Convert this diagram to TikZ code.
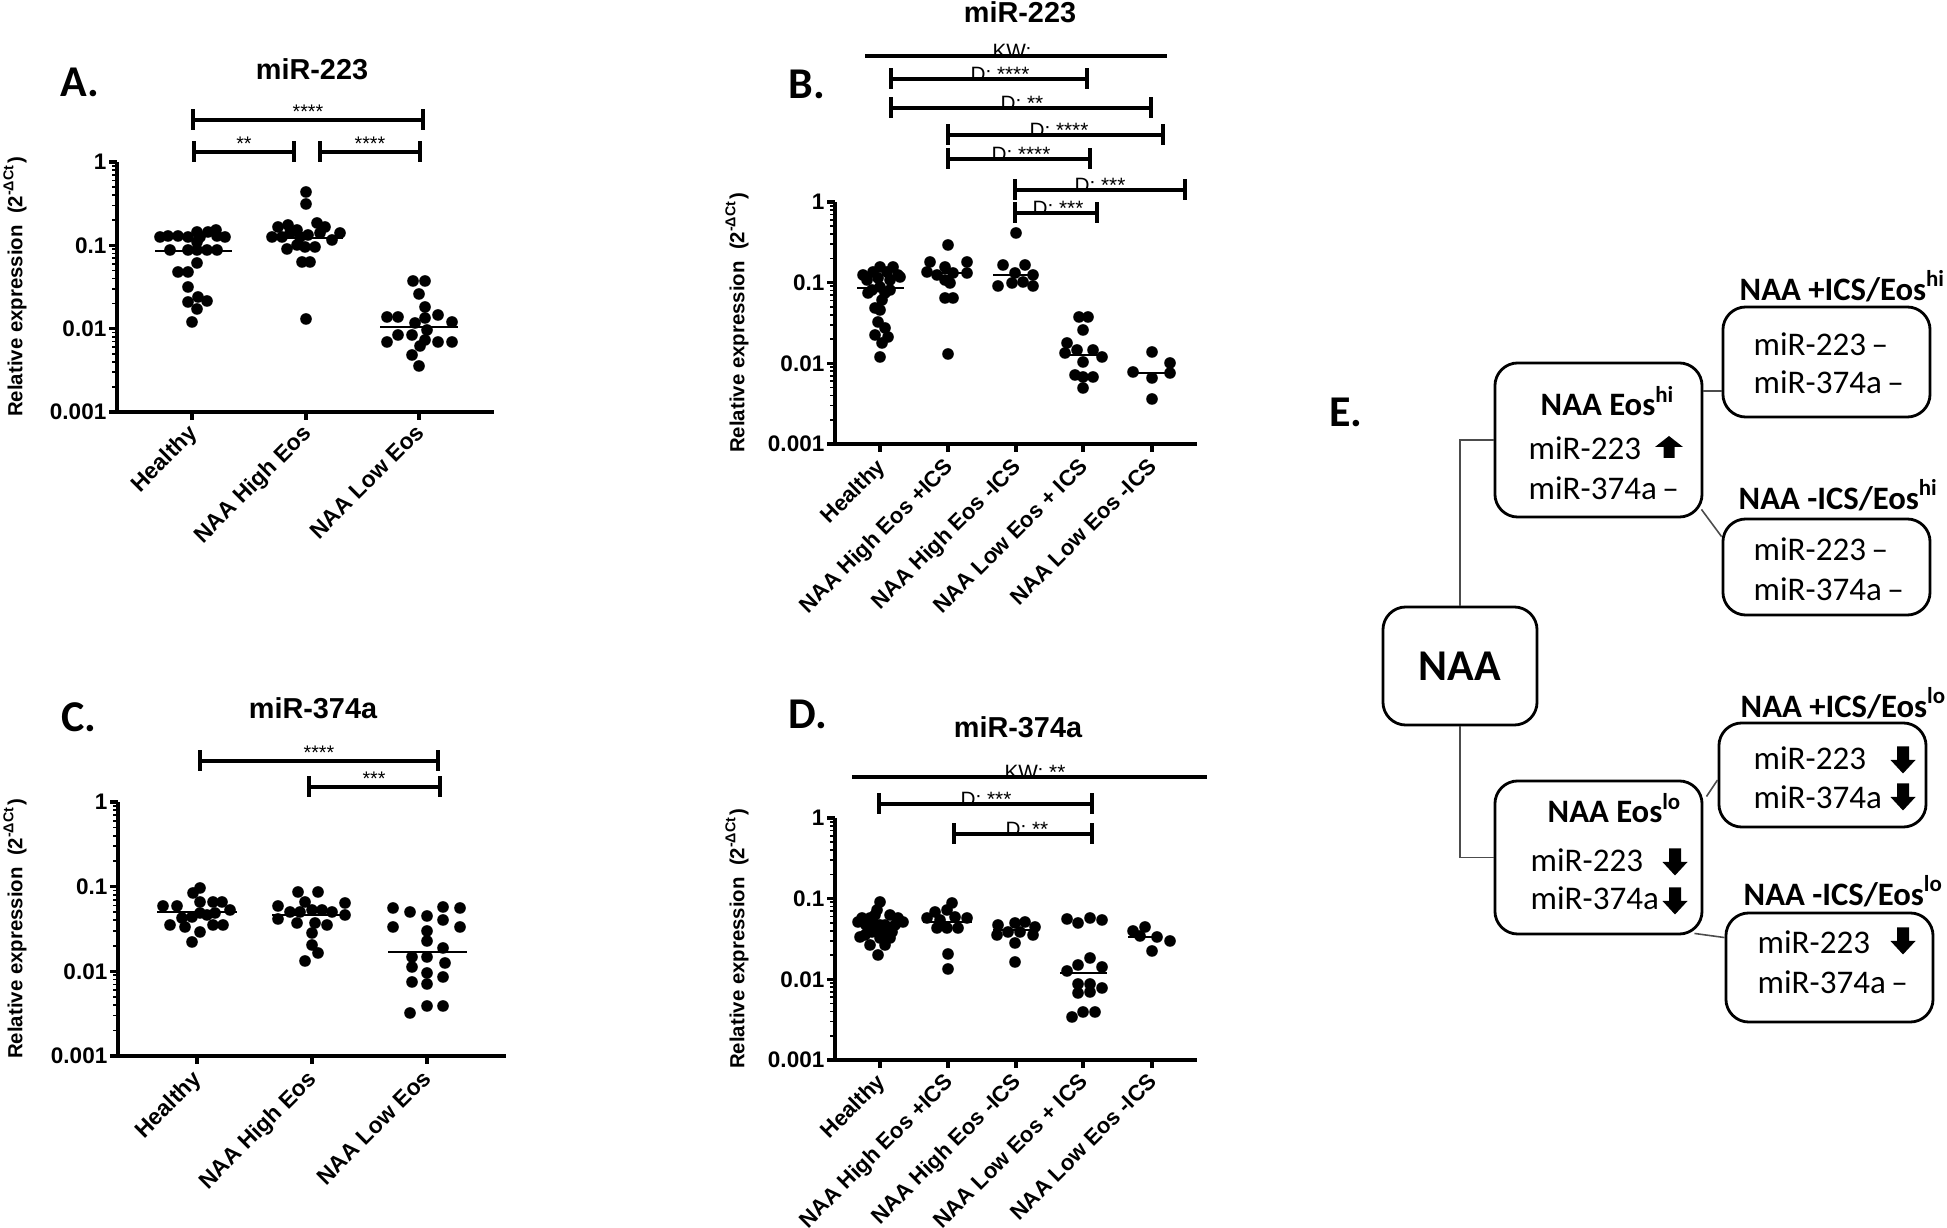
\documentclass[tikz,border=0pt]{standalone}
\usepackage{fontspec}
\setmainfont{Liberation Sans}
\newfontfamily\calfont{Carlito}
\usetikzlibrary{calc, positioning}

\tikzset{
  axisline/.style={line width=0.9pt},
  minortick/.style={line width=0.5pt},
  medline/.style={line width=0.8pt},
  sigline/.style={line width=0.9pt},
  ticklab/.style={anchor=east, inner sep=0pt, font=\bfseries\fontsize{6.4}{7}\selectfont},
  xlab/.style={anchor=north east, rotate=45, inner sep=0pt, font=\bfseries\fontsize{6.5}{8}\selectfont},
  xlabsm/.style={xlab, font=\bfseries\fontsize{6.3}{7.5}\selectfont},
  ylab/.style={rotate=90, inner sep=0pt, font=\bfseries\fontsize{5.8}{7}\selectfont},
  plottitle/.style={font=\bfseries\fontsize{8.2}{10}\selectfont},
  panel/.style={font=\calfont\bfseries\fontsize{12.5}{14}\selectfont},
  stars/.style={anchor=base, inner sep=0pt, yshift=0.015cm, font=\fontsize{5.6}{6}\selectfont},
  dtest/.style={anchor=base, inner sep=0pt, yshift=-0.03cm, font=\fontsize{5.9}{6.5}\selectfont},
  ebox/.style={draw, line width=0.8pt, rounded corners=6.5pt, inner sep=0pt},
  etxt/.style={anchor=west, inner sep=0pt, font=\calfont\fontsize{9.4}{11}\selectfont},
  ehead/.style={anchor=west, inner sep=0pt, font=\calfont\bfseries\fontsize{9.3}{11}\selectfont},
  conn/.style={line width=0.45pt, black!70},
  uparrow/.pic={\fill (-5.5,11) -- (5.5,11) -- (5.5,0) -- (14,0) -- (0,-11) -- (-14,0) -- (-5.5,0) -- cycle;},
  downarrow/.pic={\fill (-6,-13.5) -- (6,-13.5) -- (6,0) -- (12.5,0) -- (0,13.5) -- (-12.5,0) -- (-6,0) -- cycle;}
}

% log axis: name, x, y of 1, decade, x end
\newcommand\logaxis[5]{%
  \draw[axisline] (#2,#3) -- (#2,{#3+3*#4}) -- (#5,{#3+3*#4});
  \foreach \d/\lab in {0/1,1/0.1,2/0.01,3/0.001}{
    \draw[axisline] (#2,{#3+\d*#4}) -- ({#2-8},{#3+\d*#4});
    \node[ticklab] (#1y\d) at ({#2-10},{#3+\d*#4}) {\lab};
  }
  \foreach \d in {1,2,3}{\foreach \m in {2,...,9}{
    \draw[minortick] (#2,{#3+(\d-log10(\m))*#4}) -- ({#2-5},{#3+(\d-log10(\m))*#4});
  }}
}
\newcommand\scatter[1]{\foreach \p in {#1}{\fill \p circle[radius=1.65pt];}}
% bar: style, name, x1, x2, y, label x, label
\newcommand\sigbar[7][stars]{%
  \draw[sigline] (#3,{#5-10.5}) -- (#3,{#5+10.5}) (#3,#5) -- (#4,#5) (#4,{#5-10.5}) -- (#4,{#5+10.5});
  \node[#1] (#2) at (#6,#5) {#7};
}

\begin{document}
\begin{tikzpicture}[x=0.01cm, y=-0.01cm]
\fill[white] (0,0) rectangle (1947,1228);
\useasboundingbox (0,0) rectangle (1947,1228);

% ---- A
\node[panel] (lblA) at (80,82) {A.};
\node[plottitle] (titA) at (312,69) {miR-223};
\logaxis{A}{117}{162}{83.33}{494}
\foreach \x/\lab [count=\i] in {192/Healthy,306/NAA High Eos,419/NAA Low Eos}{
  \draw[axisline] (\x,412) -- (\x,420);
  \node[xlab] (Ax\i) at ({\x-5},422) {\lab};
}
\node[ylab] (Aylab) at (15,287) {Relative expression\ \ (2\textsuperscript{-ΔCt})};
\scatter{(160,237),(168,236),(178,236),(188,237),(197,232),(200,237),(208,232),(216,230),(217,236),(225,237),(170,250),(188,250),(197,250),(207,250),(217,250),(197,242),(197,263),(178,272),(188,272),(188,287),(198,297),(188,302),(207,301),(197,309),(192,322)}
\scatter{(306,192),(306,204),(278,227),(288,225),(297,230),(317,223),(325,227),(272,237),(282,237),(290,233),(300,237),(308,235),(320,233),(332,240),(340,233),(287,249),(297,245),(305,247),(315,247),(302,262),(310,262),(306,319)}
\scatter{(413,281),(425,281),(419,294),(425,307),(387,317),(398,317),(415,323),(425,318),(438,315),(452,322),(387,342),(398,335),(412,335),(425,340),(438,342),(452,342),(412,355),(419,366),(427,330),(420,346)}
\draw[medline] (155,251) -- (232,251) (267,238) -- (343,238) (380,327) -- (458,327);
\sigbar{As1}{193}{423}{120}{308}{****}
\sigbar{As2}{194}{294}{152}{244}{**}
\sigbar{As3}{320}{420}{152}{370}{****}

% ---- B
\node[panel] (lblB) at (807,84) {B.};
\node[plottitle] (titB) at (1020,12) {miR-223};
\logaxis{B}{835}{202}{80.67}{1197}
\foreach \x/\lab [count=\i] in {880/Healthy,948/NAA High Eos +ICS,1016/NAA High Eos -ICS,1083/NAA Low Eos + ICS,1152/NAA Low Eos -ICS}{
  \draw[axisline] (\x,444) -- (\x,452);
  \node[xlabsm] (Bx\i) at ({\x-5},456) {\lab};
}
\node[ylab] (Bylab) at (737,323) {Relative expression\ \ (2\textsuperscript{-ΔCt})};
\scatter{(880,267),(893,267),(863,275),(873,272),(887,272),(898,275),(867,280),(878,278),(890,280),(900,277),(872,290),(880,287),(890,290),(882,300),(875,308),(880,310),(878,322),(885,328),(875,335),(888,337),(882,343),(880,357),(885,293),(868,293)}
\scatter{(948,245),(930,262),(945,267),(967,262),(927,272),(937,275),(953,273),(967,273),(945,280),(950,283),(945,298),(953,298),(948,354)}
\scatter{(1016,233),(1003,265),(1025,265),(998,286),(1012,283),(1023,282),(1033,286),(1015,273),(1033,275)}
\scatter{(1079,317),(1088,317),(1083,330),(1067,343),(1065,353),(1077,350),(1093,350),(1102,357),(1075,375),(1083,377),(1093,377),(1083,388),(1083,362)}
\scatter{(1152,352),(1133,372),(1170,363),(1152,378),(1170,373),(1152,399)}
\draw[medline] (857,288) -- (904,288) (923,273) -- (972,273) (993,275) -- (1038,275) (1062,355) -- (1105,355) (1130,373) -- (1173,373);
\draw[sigline] (865,56) -- (1167,56);
\node[dtest] (Bkw) at (1012,56) {KW:};
\sigbar[dtest]{Bs1}{891}{1087}{79}{1000}{D: ****}
\sigbar[dtest]{Bs2}{891}{1151}{108}{1022}{D: **}
\sigbar[dtest]{Bs3}{948}{1163}{135}{1059}{D: ****}
\sigbar[dtest]{Bs4}{948}{1090}{159}{1021}{D: ****}
\sigbar[dtest]{Bs5}{1015}{1185}{190}{1100}{D: ***}
\sigbar[dtest]{Bs6}{1015}{1097}{213}{1058}{D: ***}

% ---- C
\node[panel] (lblC) at (79,717) {C.};
\node[plottitle] (titC) at (313,708) {miR-374a};
\logaxis{C}{118}{802}{84.67}{506}
\foreach \x/\lab [count=\i] in {197/Healthy,312/NAA High Eos,427/NAA Low Eos}{
  \draw[axisline] (\x,1056) -- (\x,1064);
  \node[xlab] (Cx\i) at ({\x-6},1068) {\lab};
}
\node[ylab] (Cylab) at (15,929) {Relative expression\ \ (2\textsuperscript{-ΔCt})};
\scatter{(200,888),(193,893),(163,906),(177,906),(200,902),(213,902),(222,902),(230,910),(170,925),(185,927),(200,913),(192,917),(207,915),(215,913),(213,925),(223,925),(200,932),(192,942),(182,918)}
\scatter{(298,892),(318,892),(305,902),(278,906),(345,903),(278,919),(290,912),(300,912),(312,910),(322,910),(332,912),(345,915),(297,923),(315,923),(327,925),(312,933),(312,945),(318,953),(305,961)}
\scatter{(393,908),(410,912),(427,916),(443,907),(460,908),(393,927),(427,931),(443,920),(460,927),(427,941),(443,948),(412,957),(427,957),(445,963),(412,967),(427,973),(443,977),(412,982),(427,984),(410,1013),(427,1006),(443,1006)}
\draw[medline] (157,912) -- (237,912) (272,915) -- (350,915) (388,952) -- (467,952);
\sigbar{Cs1}{200}{438}{761}{319}{****}
\sigbar{Cs2}{309}{440}{787}{374}{***}

% ---- D
\node[panel] (lblD) at (808,714) {D.};
\node[plottitle] (titD) at (1018,727) {miR-374a};
\logaxis{D}{835}{818}{80.67}{1197}
\foreach \x/\lab [count=\i] in {880/Healthy,948/NAA High Eos +ICS,1016/NAA High Eos -ICS,1083/NAA Low Eos + ICS,1152/NAA Low Eos -ICS}{
  \draw[axisline] (\x,1060) -- (\x,1068);
  \node[xlabsm] (Dx\i) at ({\x-5},1071) {\lab};
}
\node[ylab] (Dylab) at (737,939) {Relative expression\ \ (2\textsuperscript{-ΔCt})};
\scatter{(880,902),(877,910),(862,918),(870,918),(890,915),(898,918),(903,922),(858,922),(866,925),(875,925),(885,925),(895,925),(872,932),(882,932),(892,932),(865,935),(880,938),(890,938),(860,937),(885,945),(870,945),(878,955),(880,925),(875,915)}
\scatter{(952,903),(947,910),(935,912),(927,918),(940,920),(955,917),(967,918),(937,928),(947,928),(958,928),(948,954),(948,969)}
\scatter{(998,925),(1015,923),(1025,922),(1035,927),(997,935),(1008,932),(1020,932),(1033,935),(1015,943),(1015,962)}
\scatter{(1067,919),(1078,923),(1090,918),(1102,920),(1090,958),(1078,965),(1067,971),(1102,967),(1078,984),(1090,984),(1102,988),(1078,993),(1090,992),(1083,1012),(1095,1012),(1072,1017)}
\scatter{(1133,931),(1145,927),(1157,937),(1170,941),(1152,951),(1140,936)}
\draw[medline] (855,923) -- (905,923) (923,922) -- (972,922) (993,930) -- (1038,930) (1060,973) -- (1107,973) (1128,937) -- (1158,937);
\draw[sigline] (852,777) -- (1207,777);
\node[dtest] (Dkw) at (1035,777) {KW: **};
\sigbar[dtest]{Ds1}{879}{1092}{804}{986}{D: ***}
\sigbar[dtest]{Ds2}{954}{1092}{834}{1027}{D: **}

% ---- E
\node[panel] (lblE) at (1346,412) {E.};
\node[ebox, minimum width=1.54cm, minimum height=1.18cm, font=\calfont\bfseries\fontsize{12.5}{14}\selectfont] (naa) at (1460,666) {NAA};
\node[ebox, minimum width=2.07cm, minimum height=1.54cm] (eoshi) at (1598.5,440) {};
\node[ebox, minimum width=2.07cm, minimum height=1.53cm] (eoslo) at (1598.5,857.5) {};
\node[ebox, minimum width=2.07cm, minimum height=1.10cm] (pihi) at (1826.5,362) {};
\node[ebox, minimum width=2.07cm, minimum height=0.96cm] (mihi) at (1826.5,567) {};
\node[ebox, minimum width=2.07cm, minimum height=1.04cm] (pilo) at (1822.5,775) {};
\node[ebox, minimum width=2.07cm, minimum height=1.09cm] (milo) at (1829.5,967.5) {};

\node[ehead] (eoshihd) at (1540,401) {NAA Eos\textsuperscript{hi}};
\node[etxt] (eoshia) at (1528,448) {miR-223};
\node[etxt] (eoshib) at (1528,488) {miR-374a\,–};
\pic at (1669,447) {uparrow};

\node[ehead] (eoslohd) at (1547,808) {NAA Eos\textsuperscript{lo}};
\node[etxt] (eosloa) at (1530,860) {miR-223};
\node[etxt] (eoslob) at (1530,898) {miR-374a};
\pic at (1675,862) {downarrow};
\pic at (1675,901) {downarrow};

\node[ehead] (pihihd) at (1739,286) {NAA +ICS/Eos\textsuperscript{hi}};
\node[etxt] (pihia) at (1753,344) {miR-223\,–};
\node[etxt] (pihib) at (1753,382) {miR-374a\,–};

\node[ehead] (mihihd) at (1738,495) {NAA -ICS/Eos\textsuperscript{hi}};
\node[etxt] (mihia) at (1753,549) {miR-223\,–};
\node[etxt] (mihib) at (1753,589) {miR-374a\,–};

\node[ehead] (pilohd) at (1740,703) {NAA +ICS/Eos\textsuperscript{lo}};
\node[etxt] (piloa) at (1753,758) {miR-223};
\node[etxt] (pilob) at (1753,797) {miR-374a};
\pic at (1903,760) {downarrow};
\pic at (1903,797) {downarrow};

\node[ehead] (milohd) at (1743,891) {NAA -ICS/Eos\textsuperscript{lo}};
\node[etxt] (miloa) at (1757,942) {miR-223};
\node[etxt] (milob) at (1757,982) {miR-374a\,–};
\pic at (1903,941) {downarrow};

% connectors
\coordinate (hiout) at ($(eoshi.south east)+(-2,-9)$);
\coordinate (hiin) at ($(mihi.north west)+(0,19)$);
\coordinate (loout1) at ($(eoslo.north east)+(3,17)$);
\coordinate (loin1) at ($(pilo.west)+(0,5)$);
\coordinate (loout2) at ($(eoslo.south east)+(-9,-2)$);
\coordinate (loin2) at ($(milo.north west)+(0,26)$);
\draw[conn] (naa.north) |- (eoshi.west);
\draw[conn] (naa.south) |- (eoslo.west);
\draw[conn] (eoshi.25) -- (eoshi.25 -| pihi.west);
\draw[conn] (hiout) -- (hiin);
\draw[conn] (loout1) -- (loin1);
\draw[conn] (loout2) -- (loin2);
\end{tikzpicture}
\end{document}
